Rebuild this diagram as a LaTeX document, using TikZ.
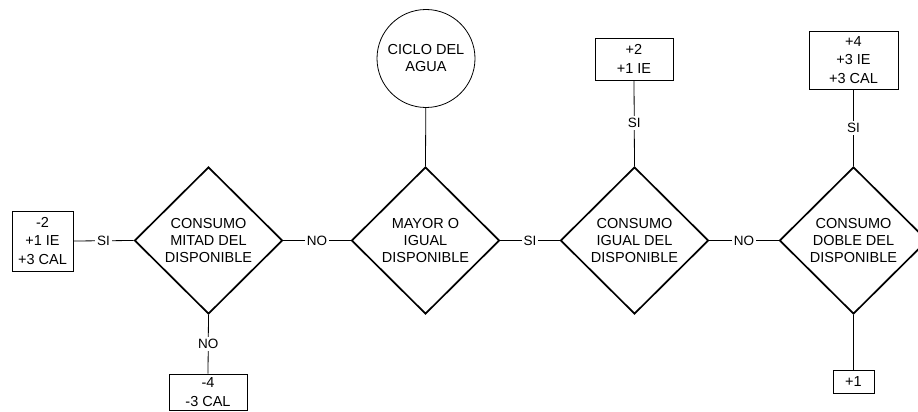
\documentclass[tikz,border=0pt]{standalone}
\usepackage{fontspec}
\setmainfont{Liberation Sans}
\usetikzlibrary{shapes.geometric}
\begin{document}
\begin{tikzpicture}[x=1pt,y=-1pt,
  every node/.style={font=\fontsize{14.5}{17}\selectfont},
  decision/.style={diamond,draw,line width=1.7pt,inner sep=0pt,
    minimum width=148pt,minimum height=147pt,align=center},
  result/.style={rectangle,draw,line width=0.8pt,inner sep=0pt,align=center,
    font=\fontsize{14.5}{18.5}\selectfont},
  start/.style={circle,draw,line width=0.8pt,minimum size=98pt,inner sep=0pt,align=center},
  link/.style={line width=0.8pt},
  lbl/.style={fill=white,inner sep=2pt,font=\fontsize{13.5}{15}\selectfont}]
\clip (0,0) rectangle (918,412);
\useasboundingbox (0,0) rectangle (918,412);

% decisions
\node[decision] (half)  at (208.5,240.5) {CONSUMO\\MITAD DEL\\DISPONIBLE};
\node[decision] (ge)    at (425.5,240.5) {MAYOR O\\IGUAL\\DISPONIBLE};
\node[decision] (equal) at (634.5,240.5) {CONSUMO\\IGUAL DEL\\DISPONIBLE};
\node[decision] (double) at (853.5,240.5) {CONSUMO\\DOBLE DEL\\DISPONIBLE};

% start
\node[start] (cycle) at (426,58.5) {CICLO DEL\\AGUA};

% outcomes
\node[result,minimum width=61pt,minimum height=60pt] (rhalf) at (42.5,241) {-2\\+1 IE\\+3 CAL};
\node[result,minimum width=78pt,minimum height=36pt] (rless) at (208,392) {-4\\-3 CAL};
\node[result,minimum width=78pt,minimum height=42pt] (requal) at (634,59) {+2\\+1 IE};
\node[result,minimum width=89pt,minimum height=58pt] (rdouble) at (853.5,60) {+4\\+3 IE\\+3 CAL};
\node[result,minimum width=41pt,minimum height=23pt] (rmore) at (853.5,381.5) {+1};

% connectors
\draw[link] (cycle) -- (ge.north);
\draw[link] (ge.west) -- node[lbl] {NO} (half.east);
\draw[link] (half.west) -- node[lbl] {SI} (rhalf.east);
\draw[link] (half.south) -- node[lbl] {NO} (rless.north);
\draw[link] (ge.east) -- node[lbl] {SI} (equal.west);
\draw[link] (equal.north) -- node[lbl] {SI} (requal.south);
\draw[link] (equal.east) -- node[lbl] {NO} (double.west);
\draw[link] (double.north) -- node[lbl] {SI} (rdouble.south);
\draw[link] (double.south) -- (rmore.north);
\end{tikzpicture}
\end{document}
